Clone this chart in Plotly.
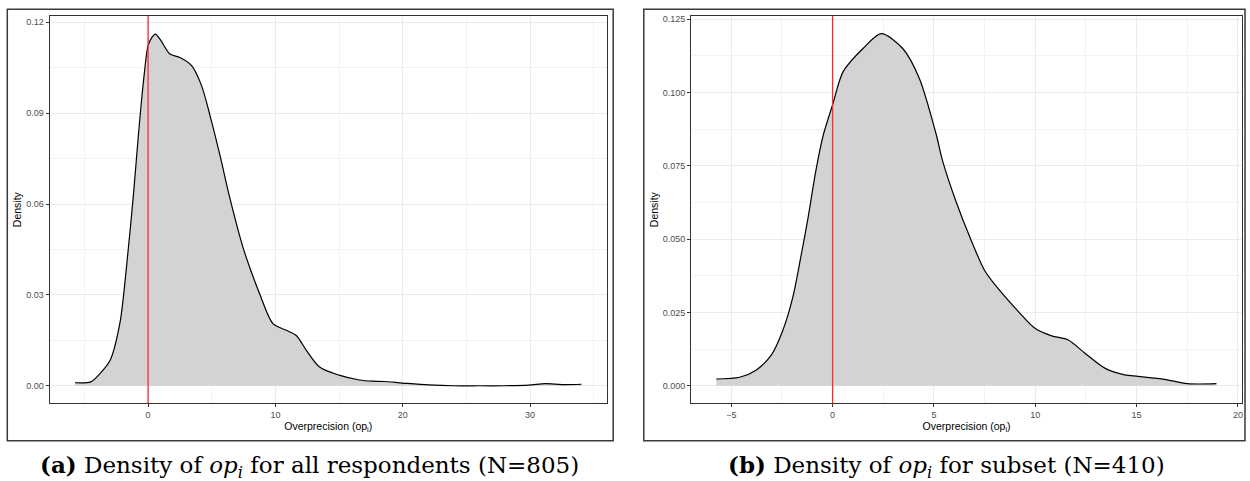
import plotly.graph_objects as go

# ---- data ----
op_all = [-5.74, -4.5, -3.76, -2.98, -2.2, -1.7, -1.15, -0.76, -0.37, 0.0, 0.3, 0.57, 1.0,
          1.72, 2.5, 3.42, 4.2, 4.86, 5.64, 6.42, 7.46, 8.77, 9.81, 10.86, 11.64, 12.43,
          13.47, 15.0, 16.6, 17.6, 18.5, 20.0, 22.0, 24.0, 26.0, 28.0, 29.9, 31.2, 32.5, 34.04]
dens_all = [0.0010, 0.0013, 0.0041, 0.0084, 0.0210, 0.0390, 0.0631, 0.0828, 0.1002, 0.1123,
            0.1150, 0.1161, 0.1140, 0.1095, 0.1084, 0.1057, 0.0991, 0.0893, 0.0762, 0.0620,
            0.0456, 0.0303, 0.0205, 0.0183, 0.0166, 0.0117, 0.0062, 0.0035, 0.0019, 0.0015,
            0.0014, 0.0009, 0.0003, 0.0000, 0.0000, 0.0000, 0.0002, 0.0007, 0.0004, 0.0005]

op_sub = [-5.74, -4.59, -3.76, -3.02, -2.45, -1.96, -1.54, -1.21, -0.83, -0.46, 0.0, 0.52,
          1.5, 2.4, 3.46, 4.28, 5.1, 5.43, 6.08, 6.81, 7.5, 8.04, 9.18, 10.0, 10.81, 11.63,
          12.45, 13.43, 14.41, 15.06, 16.37, 17.5, 18.94]
dens_sub = [0.0023, 0.0029, 0.0054, 0.0105, 0.0190, 0.0303, 0.0450, 0.0573, 0.0732, 0.0855,
            0.0958, 0.1071, 0.1150, 0.1201, 0.1150, 0.1048, 0.0860, 0.0766, 0.0630, 0.0500,
            0.0393, 0.0342, 0.0252, 0.0195, 0.0170, 0.0156, 0.0111, 0.0060, 0.0037, 0.0032,
            0.0022, 0.0007, 0.0007]

vline_x = 0
ticks_x_all = [0, 10, 20, 30]
ticks_y_all = [0.00, 0.03, 0.06, 0.09, 0.12]
ticks_x_sub = [-5, 0, 5, 10, 15, 20]
ticks_y_sub = [0.000, 0.025, 0.050, 0.075, 0.100, 0.125]

captions = ["<b>(a)</b> Density of <i>op</i><sub><i>i</i></sub> for all respondents (N=805)",
            "<b>(b)</b> Density of <i>op</i><sub><i>i</i></sub> for subset (N=410)"]
x_title = "Overprecision (op<sub>i</sub>)"
y_title = "Density"

W, H = 1250, 481
fig = go.Figure()

fig.add_trace(go.Scatter(x=op_all, y=dens_all, mode="lines", fill="tozeroy",
                         fillcolor="#D3D3D3", line=dict(color="black", width=1.2, shape="spline", smoothing=0.8),
                         xaxis="x", yaxis="y", showlegend=False, hoverinfo="skip"))
fig.add_trace(go.Scatter(x=op_sub, y=dens_sub, mode="lines", fill="tozeroy",
                         fillcolor="#D3D3D3", line=dict(color="black", width=1.2, shape="spline", smoothing=0.8),
                         xaxis="x2", yaxis="y2", showlegend=False, hoverinfo="skip"))

font_tick = dict(family="Liberation Sans, Arial, sans-serif", size=9, color="#4D4D4D")
font_title = dict(family="Liberation Sans, Arial, sans-serif", size=10.5, color="black")

def xax(dom, rng, tv, minor):
    return dict(domain=dom, range=rng, tickvals=tv, tickfont=font_tick,
                showgrid=True, gridcolor="#EBEBEB", gridwidth=1, zeroline=False,
                showline=True, mirror=True, linecolor="#333333", linewidth=1,
                ticks="outside", ticklen=3, tickcolor="#333333",
                minor=dict(dtick=minor, showgrid=True, gridcolor="#F3F3F3", gridwidth=0.7, ticks=""),
                title=dict(text=x_title, font=font_title, standoff=3))

def yax(dom, rng, tv, minor, fmt, anchor):
    return dict(domain=dom, range=rng, tickvals=tv, tickformat=fmt, tickfont=font_tick,
                showgrid=True, gridcolor="#EBEBEB", gridwidth=1, zeroline=False,
                showline=True, mirror=True, linecolor="#333333", linewidth=1,
                ticks="outside", ticklen=3, tickcolor="#333333", anchor=anchor,
                minor=dict(dtick=minor, showgrid=True, gridcolor="#F3F3F3", gridwidth=0.7, ticks=""),
                title=dict(text=y_title, font=font_title, standoff=2))

ydom = [1 - 403 / H, 1 - 14 / H]
fig.update_layout(
    width=W, height=H, margin=dict(l=0, r=0, t=0, b=0),
    paper_bgcolor="white", plot_bgcolor="white",
    xaxis=xax([49.7 / W, 607.3 / W], [-7.73, 36.03], ticks_x_all, 5),
    yaxis=yax(ydom, [-0.0058, 0.1221], ticks_y_all, 0.015, ".2f", "x"),
    xaxis2=dict(xax([691.7 / W, 1243 / W], [-6.98, 20.2], ticks_x_sub, 2.5), anchor="y2"),
    yaxis2=yax(ydom, [-0.006, 0.1261], ticks_y_sub, 0.0125, ".3f", "x2"),
)
fig.layout.xaxis.anchor = "y"

# red reference lines at op = 0
for xr, yr in [("x", "y domain"), ("x2", "y2 domain")]:
    fig.add_shape(type="line", xref=xr, yref=yr, x0=vline_x, x1=vline_x, y0=0, y1=1,
                  line=dict(color="#FF2A2A", width=1.3), layer="above")

# outer frames around each sub-figure
for x0, x1 in [(7.3, 613.7), (644.3, 1246)]:
    fig.add_shape(type="rect", xref="paper", yref="paper",
                  x0=x0 / W, x1=x1 / W, y0=1 - 440.7 / H, y1=1 - 7.3 / H,
                  line=dict(color="#3A3A3A", width=1.5), fillcolor="rgba(0,0,0,0)")

# captions
for cx, txt in [(310, captions[0]), (947, captions[1])]:
    fig.add_annotation(x=cx / W, y=1 - 466 / H, xref="paper", yref="paper", text=txt,
                       showarrow=False, xanchor="center", yanchor="middle",
                       font=dict(family="DejaVu Serif, Liberation Serif, serif", size=23, color="black"))

fig.write_html("out.html", config={"displayModeBar": False},
               post_script="document.body.style.margin='0';document.body.style.padding='0';")
